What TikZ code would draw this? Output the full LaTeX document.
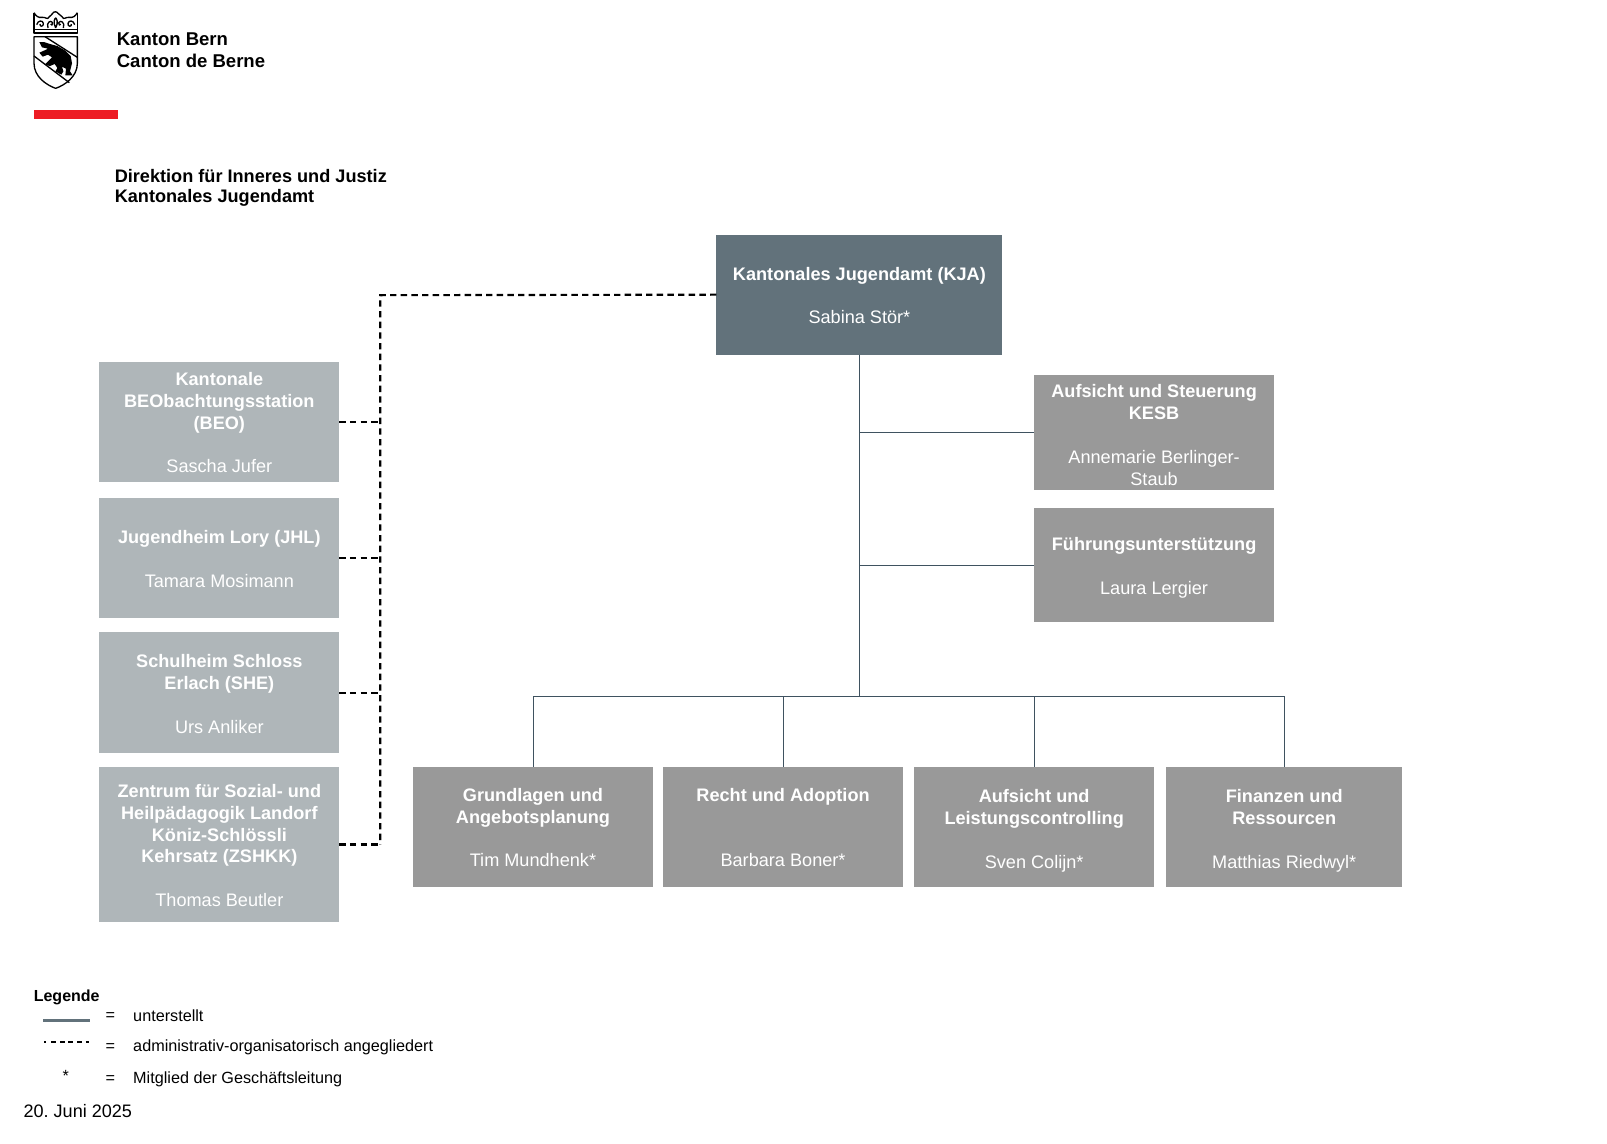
\documentclass[tikz,border=0pt]{standalone}
\usepackage{fontspec}
\setmainfont{Liberation Sans}
\frenchspacing
\definecolor{kjafill}{HTML}{62727B}
\definecolor{unitfill}{HTML}{999999}
\definecolor{sidefill}{HTML}{AFB6B9}
\definecolor{linecol}{HTML}{3F5260}
\definecolor{bernred}{HTML}{ED1C24}
\newcommand{\uu}{0.7687pt}
\newcommand{\fs}{\rule{0pt}{16.1pt}}
\newcommand{\fl}{\rule{0pt}{18.5pt}}
\tikzset{
  orgbox/.style={rectangle,inner sep=0pt,outer sep=0pt,text=white,align=center,anchor=north west,
    font=\fontsize{13.6}{16.4}\selectfont},
  kjabox/.style={orgbox,fill=kjafill},
  unitbox/.style={orgbox,fill=unitfill},
  sidebox/.style={orgbox,fill=sidefill},
  solidline/.style={draw=linecol,line width=0.85pt},
  thinline/.style={draw=linecol,line width=0.5pt},
  dashline/.style={draw=black,line width=1.6pt,dash pattern=on 4.8pt off 3.2pt},
  plain/.style={inner sep=0pt,outer sep=0pt,anchor=west,text=black},
  logoline/.style={draw=black,line width=1pt,line join=round},
}
\newcommand{\hd}[1]{\textbf{#1}}
\begin{document}
\begin{tikzpicture}[x=\uu,y=-\uu]
\useasboundingbox (0,0) rectangle (1567.9,1115.2);

% logo
\begin{scope}[shift={(19.52,0)},scale=0.3253]
  \draw[logoline] (42,38) -- (42,99) -- (172,99) -- (172,38);
  \draw[logoline] (42,89) -- (172,89);
  \draw[logoline] (42,38) .. controls (48,48) and (54,54) .. (66,52) .. controls (78,50) and (82,62) .. (88,50)
     .. controls (90,44) and (98,46) .. (98,40) .. controls (100,34) and (112,34) .. (114,40) .. controls (116,46) and (124,44) .. (126,50)
     .. controls (132,62) and (136,50) .. (148,52) .. controls (160,54) and (166,48) .. (172,38);
  \draw[logoline] (50,74) .. controls (54,60) and (68,60) .. (70,70) .. controls (72,80) and (58,82) .. (60,72);
  \draw[logoline] (84,84) .. controls (78,68) and (92,58) .. (98,68) .. controls (100,76) and (92,78) .. (92,72);
  \draw[logoline] (107,84) .. controls (98,66) and (104,56) .. (107,54) .. controls (110,56) and (116,66) .. (107,84);
  \draw[logoline] (130,84) .. controls (136,68) and (122,58) .. (116,68) .. controls (114,76) and (122,78) .. (122,72);
  \draw[logoline] (164,74) .. controls (160,60) and (146,60) .. (144,70) .. controls (142,80) and (156,82) .. (154,72);
  \draw[logoline] (42,110) -- (172,110) -- (172,190) .. controls (172,230) and (135,255) .. (107,265)
     .. controls (79,255) and (42,230) .. (42,190) -- cycle;
  \draw[logoline] (75,110) -- (172,172);
  \draw[logoline] (42,168) -- (148,248);
  \fill[black] (58,126) -- (72,126) -- (90,132) -- (112,138) -- (136,152) -- (152,168) -- (156,190) -- (150,214)
     -- (158,226) -- (136,226) -- (138,206) -- (126,200) -- (130,214) -- (124,224) -- (106,214) -- (112,204)
     -- (104,192) -- (90,198) -- (74,194) -- (86,182) -- (96,172) -- (84,164) -- (68,170) -- (58,158) -- (76,150)
     -- (84,146) -- (66,142) -- cycle;
\end{scope}
\node[plain,font=\bfseries\fontsize{13.9}{16}\selectfont] (kb) at (114,38) {Kanton Bern};
\node[plain,font=\bfseries\fontsize{13.9}{16}\selectfont] (cb) at (114,59) {Canton de Berne};
\fill[bernred] (33,107) rectangle (115,116);
\node[plain,font=\bfseries\fontsize{13.6}{16}\selectfont] (dir) at (112,171.5) {Direktion für Inneres und Justiz};
\node[plain,font=\bfseries\fontsize{13.6}{16}\selectfont] (jug) at (112,193.5) {Kantonales Jugendamt};

% boxes
\node[kjabox,minimum width=279*\uu,minimum height=117*\uu] (kja) at (699,229)
  {\hd{\fs Kantonales Jugendamt (KJA)}\\[16.4pt]\strut Sabina Stör*};
\node[unitbox,minimum width=234*\uu,minimum height=112*\uu] (kesb) at (1009,366)
  {\hd{\rule{0pt}{13.5pt}Aufsicht und Steuerung}\\\hd{KESB}\\[16.2pt]Annemarie Berlinger-\\Staub};
\node[unitbox,minimum width=234*\uu,minimum height=111*\uu] (fu) at (1009,496)
  {\hd{\fs Führungsunterstützung}\\[16.4pt]\strut Laura Lergier};
\node[unitbox,minimum width=234*\uu,minimum height=117*\uu] (gru) at (403,748)
  {\hd{\fs Grundlagen und}\\\hd{Angebotsplanung}\\[16.4pt]\strut Tim Mundhenk*};
\node[unitbox,minimum width=234*\uu,minimum height=117*\uu] (rec) at (647,748)
  {\hd{\fs Recht und Adoption}\\[32.8pt]\strut Barbara Boner*};
\node[unitbox,minimum width=234*\uu,minimum height=117*\uu] (auf) at (892,748)
  {\hd{\fl Aufsicht und}\\\hd{Leistungscontrolling}\\[16.4pt]\strut Sven Colijn*};
\node[unitbox,minimum width=230*\uu,minimum height=117*\uu] (fin) at (1138,748)
  {\hd{\fl Finanzen und}\\\hd{Ressourcen}\\[16.4pt]\strut Matthias Riedwyl*};
\node[sidebox,minimum width=234*\uu,minimum height=117*\uu] (beo) at (97,353)
  {\hd{\fs Kantonale}\\\hd{BEObachtungsstation}\\\hd{(BEO)}\\[16.4pt]\strut Sascha Jufer};
\node[sidebox,minimum width=234*\uu,minimum height=117*\uu] (jhl) at (97,486)
  {\hd{\fs Jugendheim Lory (JHL)}\\[16.4pt]\strut Tamara Mosimann};
\node[sidebox,minimum width=234*\uu,minimum height=118*\uu] (she) at (97,617)
  {\hd{\fs Schulheim Schloss}\\\hd{Erlach (SHE)}\\[16.4pt]\strut Urs Anliker};
\node[sidebox,minimum width=234*\uu,minimum height=152*\uu] (zsh) at (97,748)
  {\hd{\fs Zentrum für Sozial- und}\\\hd{Heilpädagogik Landorf}\\\hd{Köniz-Schlössli}\\\hd{Kehrsatz (ZSHKK)}\\[16.4pt]\strut Thomas Beutler};

% solid connectors
\coordinate (bus) at (838.5,679.6);
\draw[solidline] (kja.south) -- (bus);
\draw[solidline] (kja.south |- kesb.west) -- (kesb.west);
\draw[solidline] (kja.south |- fu.west) -- (fu.west);
\draw[thinline] (gru.north) -- (gru.north |- bus) -- (bus) -- (bus -| fin.north) -- (fin.north);
\draw[thinline] (rec.north) -- (rec.north |- bus);
\draw[thinline] (auf.north) -- (auf.north |- bus);

% dashed connectors
\coordinate (dashtop) at (371,288);
\coordinate (dashbot) at (371,824);
\draw[dashline] (kja.west) -- (dashtop) -- (dashbot);
\draw[dashline] (zsh.east) -- (dashbot);
\draw[dashline] (beo.east) -- (beo.east -| dashtop);
\draw[dashline] (jhl.east) -- (jhl.east -| dashtop);
\draw[dashline] (she.east) -- (she.east -| dashtop);

% legend
\tikzset{legtext/.style={plain,font=\fontsize{12.15}{14}\selectfont}}
\node[plain,font=\bfseries\fontsize{12}{14}\selectfont] (leg) at (33,973) {Legende};
\coordinate (s1) at (42,996); \coordinate (s2) at (88,996);
\draw[draw=kjafill,line width=2.2pt] (s1) -- (s2);
\coordinate (d1) at (43,1016.5); \coordinate (d2) at (87,1016.5);
\draw[black,line width=1.5pt,dash pattern=on 1.5pt off 3.8pt on 3.7pt off 2.8pt on 3.7pt off 2.8pt on 3.7pt off 2.8pt on 3.7pt off 2.8pt on 3.7pt] (d1) -- (d2);
\node[legtext] (e1) at (103,991.5) {=};
\node[legtext] (e2) at (103,1022) {=};
\node[legtext] (e3) at (103,1053) {=};
\node[legtext] (t1) at (130,990.5) {unterstellt};
\node[legtext] (t2) at (130,1021.5) {administrativ-organisatorisch angegliedert};
\node[legtext] (t3) at (130,1053) {Mitglied der Geschäftsleitung};
\node[legtext] (st) at (61,1050) {*};
\node[plain,font=\fontsize{13.55}{16}\selectfont] (date) at (23,1084) {20. Juni 2025};
\end{tikzpicture}
\end{document}
